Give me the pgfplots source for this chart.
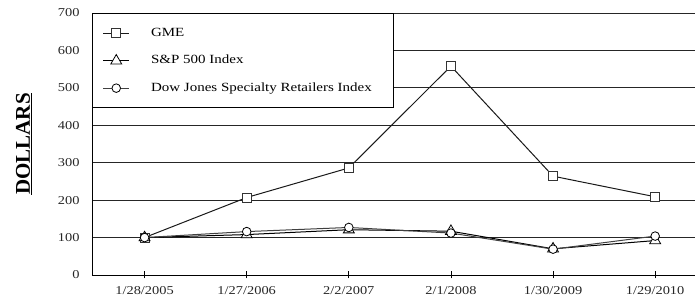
\documentclass[border=0pt]{standalone}
\usepackage{fontspec}
\setmainfont{Liberation Serif}[FakeStretch=1.2]
\newfontfamily\labelfont{Liberation Serif}
\usepackage{pgfplots}
\pgfplotsset{compat=1.18}
\begin{document}
\begin{tikzpicture}
\path[use as bounding box] (-92.5pt,-29pt) rectangle (602.5pt,275pt);
\begin{axis}[
  at={(0,0)}, anchor=south west,
  scale only axis, width=602.5pt, height=262pt,
  xmin=-0.51, xmax=5.39, ymin=0, ymax=700,
  axis x line=bottom, axis y line=left,
  axis line style={-, black, line width=0.9pt},
  xtick={0,1,2,3,4,5},
  xticklabels={1/28/2005,1/27/2006,2/2/2007,2/1/2008,1/30/2009,1/29/2010},
  ytick={0,100,...,700},
  xtick align=center,
  major tick length=7pt,
  x tick style={black, line width=0.8pt},
  y tick style={draw=none},
  ymajorgrids, major grid style={black!85, line width=0.9pt},
  /pgf/number format/assume math mode=true,
  ticklabel style={font=\fontsize{12}{14}\selectfont, text=black!85},
  yticklabel style={xshift=-6pt},
  xticklabel style={yshift=-4pt},
  ylabel={\labelfont\textbf{\underline{DOLLARS}}},
  ylabel style={at={(axis description cs:-0.1137,0.5)}, anchor=center, font=\fontsize{21}{23}\selectfont},
  legend cell align=left,
  legend style={at={(0,1)}, anchor=north west, draw=black, line width=0.9pt, fill=white,
    font=\fontsize{12.5}{14}\selectfont, inner xsep=10pt, inner ysep=13.8pt,
    nodes={inner xsep=0pt, inner ysep=0pt, text height=9pt, text depth=3pt},
    row sep=15.3pt, /tikz/every odd column/.append style={column sep=21.5pt}},
  legend image code/.code={\draw[mark repeat=2,mark phase=2,#1] plot coordinates {(0cm,0cm)(0.45cm,0cm)(0.9cm,0cm)};},
]
\addplot[black!90, line width=1pt, mark=square*, mark size=4.6pt, mark options={fill=white, draw=black!80, line width=0.8pt}]
  coordinates {(0,100)(1,207)(2,286)(3,558)(4,264)(5,209)};
\addlegendentry{GME}
\addplot[black, line width=1pt, mark=triangle*, mark size=6.3pt, mark options={fill=white, draw=black, line width=0.8pt}]
  coordinates {(0,100)(1,108)(2,121)(3,117)(4,70)(5,92)};
\addlegendentry{S\&P 500 Index}
\addplot[black!75, line width=1pt, mark=*, mark size=4.3pt, mark options={fill=white, draw=black, line width=0.8pt}]
  coordinates {(0,100)(1,116)(2,127)(3,112)(4,69)(5,104)};
\addlegendentry{Dow Jones Specialty Retailers Index\makebox[12pt]{}}
\end{axis}
\end{tikzpicture}
\end{document}
